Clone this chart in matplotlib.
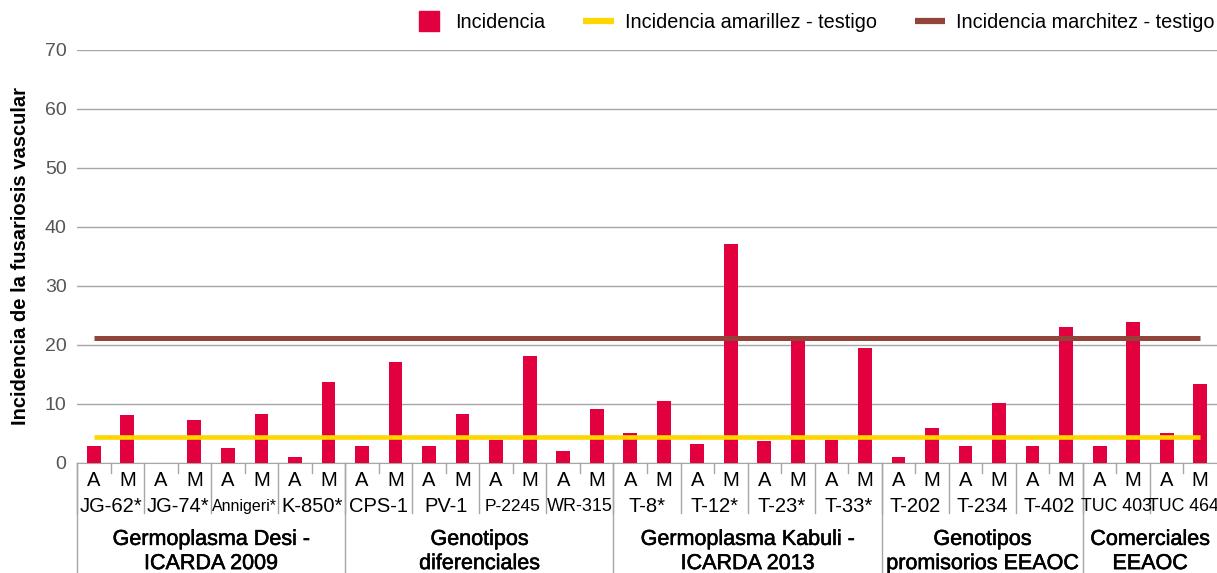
import numpy as np
import matplotlib.pyplot as plt
import matplotlib.patheffects as pe
from matplotlib.lines import Line2D
from matplotlib.transforms import blended_transform_factory

plt.rcParams['font.family'] = ['Liberation Sans', 'DejaVu Sans']

# Datos
grupos = ['Germoplasma Desi -\nICARDA 2009', 'Genotipos\ndiferenciales',
          'Germoplasma Kabuli -\nICARDA 2013', 'Genotipos\npromisorios EEAOC',
          'Comerciales\nEEAOC']
genotipos_por_grupo = [4, 4, 4, 3, 2]
genotipos = ['JG-62*', 'JG-74*', 'Annigeri*', 'K-850*',
             'CPS-1', 'PV-1', 'P-2245', 'WR-315',
             'T-8*', 'T-12*', 'T-23*', 'T-33*',
             'T-202', 'T-234', 'T-402',
             'TUC 403', 'TUC 464']
sintomas = ['A', 'M']
incidencia_A = [2.9, 0.0, 2.5, 1.0,
                2.9, 2.9, 3.9, 2.0,
                5.0, 3.2, 3.7, 3.9,
                1.0, 2.9, 2.9,
                2.9, 5.0]
incidencia_M = [8.1, 7.2, 8.2, 13.7,
                17.0, 8.2, 18.1, 9.1,
                10.4, 37.1, 21.0, 19.4,
                5.9, 10.1, 23.0,
                23.8, 13.3]
testigo_amarillez = 4.3
testigo_marchitez = 21.2

rojo = '#E2003E'
amarillo = '#FFD600'
marron = '#93443A'
gris = '#A6A6A6'

# intercalar A y M
valores = []
etiquetas = []
for a, m in zip(incidencia_A, incidencia_M):
    valores += [a, m]
    etiquetas += sintomas
x = np.arange(len(valores))

fig = plt.figure(figsize=(12.17, 5.73), dpi=100)
ax = fig.add_axes([77 / 1217, 110.3 / 573, 1 - 77 / 1217, 413 / 573])

ax.bar(x, valores, width=0.41, color=rojo, zorder=3)
ax.plot([x[0], x[-1]], [testigo_amarillez] * 2, color=amarillo, lw=3.3,
        solid_capstyle='butt', zorder=4)
ax.plot([x[0], x[-1]], [testigo_marchitez] * 2, color=marron, lw=3.6,
        solid_capstyle='butt', zorder=4)

ax.set_xlim(-0.5, len(valores) - 0.5)
ax.set_ylim(0, 70)
ax.set_yticks(np.arange(0, 71, 10))
ax.tick_params(axis='y', length=0, pad=7.5, labelsize=14, labelcolor='#555555')
ax.set_xticks([])
ax.grid(axis='y', color=gris, lw=1, zorder=0)
for s in ['top', 'right', 'left']:
    ax.spines[s].set_visible(False)
ax.spines['bottom'].set_color(gris)
ax.set_ylabel('Incidencia de la fusariosis vascular', fontsize=14.5,
              fontweight='bold')
ax.yaxis.set_label_coords(-0.041, 0.5)

# eje categórico de tres niveles
tr = blended_transform_factory(ax.transData, ax.transAxes)
sep_kw = dict(color=gris, lw=1, transform=tr, clip_on=False)

for i, lab in enumerate(etiquetas):
    ax.text(x[i], -0.042, lab, transform=tr, ha='center', va='center',
            fontsize=14.5)
    if i % 2 == 1:
        ax.plot([i - 0.5, i - 0.5], [0, -0.024], **sep_kw)

tam_gen = {'Annigeri*': 11.5, 'P-2245': 12.5, 'WR-315': 13,
           'TUC 403': 12.8, 'TUC 464': 12.8}
for j, g in enumerate(genotipos):
    ax.text(2 * j + 0.5, -0.105, g, transform=tr, ha='center', va='center',
            fontsize=tam_gen.get(g, 14.5))
    ax.plot([2 * j - 0.5, 2 * j - 0.5], [0, -0.121], **sep_kw)

inicio = 0
for grupo, n in zip(grupos, genotipos_por_grupo):
    ax.plot([2 * inicio - 0.5] * 2, [0, -0.30], **sep_kw)
    centro = 2 * inicio + n - 0.5
    ax.text(centro, -0.215, grupo, transform=tr, ha='center', va='center',
            fontsize=15.5, linespacing=1.2,
            path_effects=[pe.withStroke(linewidth=0.4, foreground='black')])
    inicio += n

handles = [Line2D([], [], ls='none', marker='s', markersize=14.5,
                  markerfacecolor=rojo, markeredgecolor=rojo),
           Line2D([], [], color=amarillo, lw=4.5, solid_capstyle='butt'),
           Line2D([], [], color=marron, lw=4.5, solid_capstyle='butt')]
fig.legend(handles, ['Incidencia', 'Incidencia amarillez - testigo',
                     'Incidencia marchitez - testigo'],
           loc='upper right', bbox_to_anchor=(1.008, 0.998), ncol=3, frameon=False,
           fontsize=14.3, handlelength=1.55, handletextpad=0.55,
           columnspacing=1.9, borderaxespad=0.2)

fig.savefig('out.png', dpi=100)
